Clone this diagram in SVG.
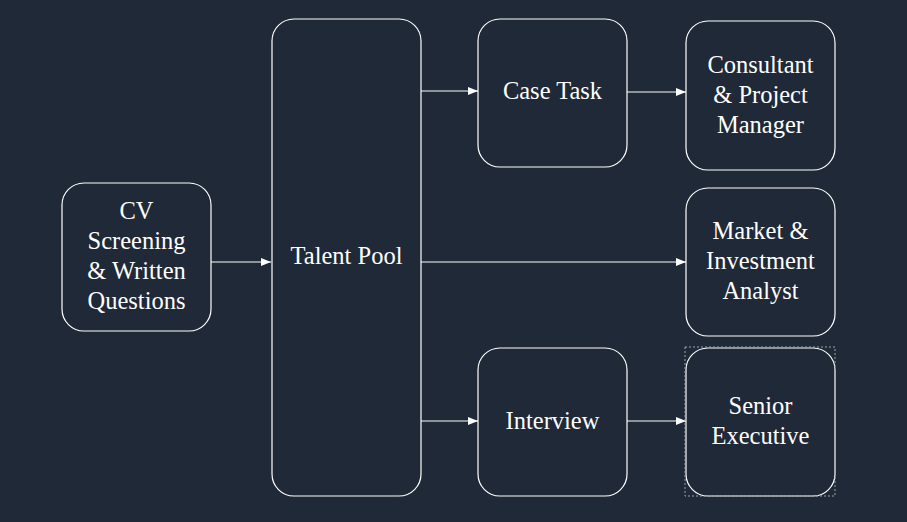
<svg xmlns="http://www.w3.org/2000/svg" width="907" height="522" viewBox="0 0 907 522">
<defs>
<marker id="ah" viewBox="0 0 10 10" refX="10" refY="5" markerWidth="10" markerHeight="10" markerUnits="userSpaceOnUse" orient="auto">
<path d="M0,1 L10,5 L0,9 Z" fill="#ffffff"/>
</marker>
<style>
.n{fill:#1f2937;stroke:#ffffff;stroke-width:1.2}
.t{fill:#ffffff;text-anchor:middle}
.c{stroke:#ffffff;stroke-width:1;fill:none;marker-end:url(#ah)}
</style>
</defs>
<rect width="907" height="522" fill="#1f2937"/>
<g id="connectors">
<line class="c" x1="211" y1="262" x2="271" y2="262"/>
<line class="c" x1="421" y1="91" x2="478" y2="91"/>
<line class="c" x1="627" y1="92" x2="686" y2="92"/>
<line class="c" x1="421" y1="262" x2="686" y2="262"/>
<line class="c" x1="421" y1="421" x2="478" y2="421"/>
<line class="c" x1="627" y1="421" x2="686" y2="421"/>
</g>
<g id="cv"><rect class="n" x="62" y="183" width="149" height="148" rx="22"/>
<text class="t" font-family="Liberation Serif, serif" font-size="24.5"><tspan x="136.5" y="219">CV</tspan><tspan x="136.5" y="249">Screening</tspan><tspan x="136.5" y="279">&amp; Written</tspan><tspan x="136.5" y="309">Questions</tspan></text></g>
<g id="talent"><rect class="n" x="272" y="19" width="149" height="477" rx="22"/>
<text class="t" font-family="Liberation Serif, serif" font-size="24.5" x="346.5" y="264">Talent Pool</text></g>
<g id="case"><rect class="n" x="478" y="19" width="149" height="148" rx="22"/>
<text class="t" font-family="Liberation Serif, serif" font-size="24.5" x="552.5" y="99">Case Task</text></g>
<g id="consultant"><rect class="n" x="686" y="21" width="149" height="149" rx="22"/>
<text class="t" font-family="Liberation Serif, serif" font-size="24.5"><tspan x="760.5" y="73">Consultant</tspan><tspan x="760.5" y="103">&amp; Project</tspan><tspan x="760.5" y="133">Manager</tspan></text></g>
<g id="market"><rect class="n" x="686" y="188" width="149" height="148" rx="22"/>
<text class="t" font-family="Liberation Serif, serif" font-size="24.5"><tspan x="760.5" y="239">Market &amp;</tspan><tspan x="760.5" y="269">Investment</tspan><tspan x="760.5" y="299">Analyst</tspan></text></g>
<g id="interview"><rect class="n" x="478" y="348" width="149" height="148" rx="22"/>
<text class="t" font-family="Liberation Serif, serif" font-size="24.5" x="552.5" y="429">Interview</text></g>
<g id="senior"><rect class="n" x="686" y="348" width="149" height="148" rx="22"/>
<rect x="685" y="347" width="150" height="149" fill="none" stroke="#9ca3af" stroke-width="1" stroke-dasharray="2,2"/>
<text class="t" font-family="Liberation Serif, serif" font-size="24.5"><tspan x="760.5" y="414">Senior</tspan><tspan x="760.5" y="444">Executive</tspan></text></g>
</svg>
